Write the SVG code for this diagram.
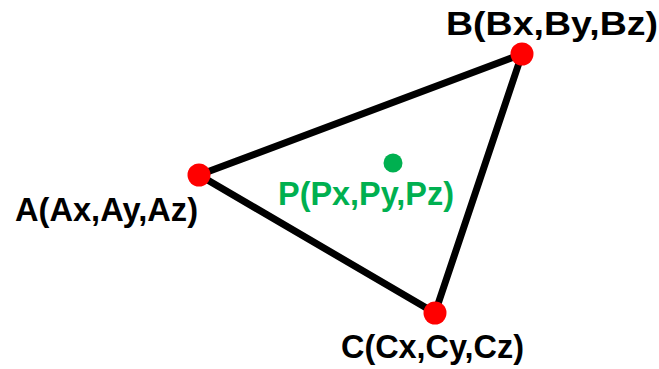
<svg xmlns="http://www.w3.org/2000/svg" width="659" height="369" viewBox="0 0 659 369">
<style>
.lbl{font-family:"Liberation Sans",Arial,sans-serif;font-weight:bold;font-size:34px;fill:#000}
.grn{fill:#00B050}
.vtx{fill:#FF0000}
.edge{stroke:#000;stroke-width:7;stroke-linecap:round;fill:none}
</style>
<rect width="659" height="369" fill="#fff"/>
<g id="connectors">
<line class="edge" x1="199" y1="175" x2="522" y2="54"/>
<line class="edge" x1="522" y1="54" x2="435" y2="313"/>
<line class="edge" x1="435" y1="313" x2="199" y2="175"/>
</g>
<g id="A">
<circle class="vtx" cx="199" cy="175" r="11.5"/>
<text class="lbl" x="15" y="221" textLength="183" lengthAdjust="spacingAndGlyphs">A(Ax,Ay,Az)</text>
</g>
<g id="B">
<circle class="vtx" cx="522" cy="54" r="11.5"/>
<text class="lbl" x="446" y="35" textLength="212" lengthAdjust="spacingAndGlyphs">B(Bx,By,Bz)</text>
</g>
<g id="C">
<circle class="vtx" cx="435" cy="313" r="11.5"/>
<text class="lbl" x="341" y="358" textLength="183" lengthAdjust="spacingAndGlyphs">C(Cx,Cy,Cz)</text>
</g>
<g id="P">
<circle class="grn" cx="393" cy="163" r="9.5"/>
<text class="lbl grn" x="278" y="205" textLength="176" lengthAdjust="spacingAndGlyphs">P(Px,Py,Pz)</text>
</g>
</svg>
